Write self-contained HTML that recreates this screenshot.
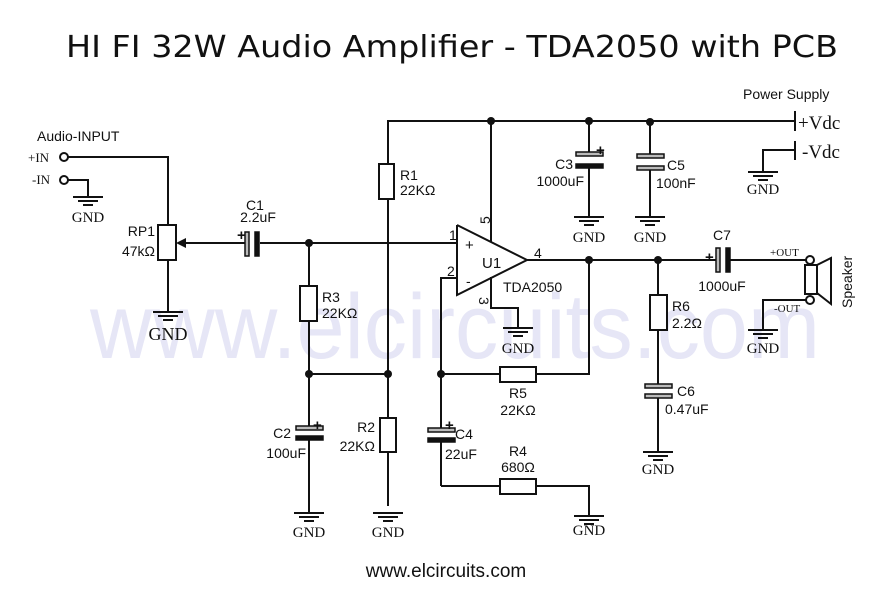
<!DOCTYPE html>
<html><head><meta charset="utf-8"><style>
html,body{margin:0;padding:0;background:#fff;}
svg{display:block;}
text{font-family:"Liberation Sans",sans-serif;fill:#111;}
.s{font-family:"Liberation Serif",serif;}
</style></head><body>
<svg width="892" height="612" viewBox="0 0 892 612" xmlns="http://www.w3.org/2000/svg">
<defs>
<g id="gnd" stroke="#111" stroke-width="2"><line x1="-15" y1="0" x2="15" y2="0"/><line x1="-10" y1="4" x2="10" y2="4"/><line x1="-5" y1="8" x2="5" y2="8"/></g>
</defs>
<text x="90" y="358" font-size="92" style="fill:#e6e6f6" textLength="730" lengthAdjust="spacingAndGlyphs">www.elcircuits.com</text>
<text x="66" y="57" font-size="30" style="font-family:'DejaVu Sans',sans-serif" textLength="772" lengthAdjust="spacingAndGlyphs">HI FI 32W Audio Amplifier - TDA2050 with PCB</text>
<g stroke="#111" stroke-width="2" fill="none">
<polyline points="388,506 388,121 795,121"/>
<line x1="795" y1="111" x2="795" y2="131"/>
<polyline points="491,121 491,242"/>
<line x1="589" y1="121" x2="589" y2="156"/><line x1="589" y1="168" x2="589" y2="217"/>
<line x1="650" y1="121" x2="650" y2="158"/><line x1="650" y1="170" x2="650" y2="217"/>
<polyline points="795,141 795,160"/><polyline points="795,150 763,150 763,172"/>
<polyline points="68,157 168,157 168,225"/>
<polyline points="68,180 88,180 88,196"/>
<line x1="168" y1="260" x2="168" y2="312"/>
<line x1="182" y1="243" x2="247" y2="243"/>
<line x1="260" y1="243" x2="457" y2="243"/>
<line x1="309" y1="243" x2="309" y2="286"/><line x1="309" y1="321" x2="309" y2="426"/>
<line x1="309" y1="374" x2="388" y2="374"/>
<line x1="309" y1="438" x2="309" y2="513"/>
<polyline points="457,225 527,260 457,295 457,225"/>
<polyline points="457,278 441,278 441,428"/>
<line x1="441" y1="440" x2="441" y2="486"/>
<polyline points="441,486 500,486"/><polyline points="536,486 589,486 589,516"/>
<line x1="441" y1="374" x2="500" y2="374"/><polyline points="536,374 589,374 589,260"/>
<polyline points="491,277 491,308 518,308 518,328"/>
<line x1="527" y1="260" x2="717" y2="260"/>
<line x1="730" y1="260" x2="806" y2="260"/>
<line x1="658" y1="260" x2="658" y2="295"/><line x1="658" y1="330" x2="658" y2="384"/><line x1="658" y1="396" x2="658" y2="452"/>
<polyline points="806,300 763,300 763,330"/>
</g>
<g stroke="#111" stroke-width="2" fill="#fff">
<rect x="379" y="164" width="15" height="35"/>
<rect x="380" y="418" width="16" height="34"/>
<rect x="300" y="286" width="17" height="35"/>
<rect x="158" y="225" width="18" height="35"/>
<rect x="500" y="367" width="36" height="15"/>
<rect x="500" y="479" width="36" height="15"/>
<rect x="650" y="295" width="17" height="35"/>
<circle cx="64" cy="157" r="4"/><circle cx="64" cy="180" r="4"/>
<circle cx="810" cy="260" r="4"/><circle cx="810" cy="300" r="4"/>
<rect x="805" y="265" width="12" height="29"/>
<polygon points="817,265 831,258 831,304 817,293"/>
</g>
<polygon points="176,243 186,238 186,248" fill="#111"/>
<g stroke="#111" stroke-width="1.5">
<rect x="245" y="232" width="4" height="24" fill="#bbb"/>
<rect x="255" y="232" width="4" height="24" fill="#111"/>
<rect x="576" y="152" width="27" height="4" fill="#bbb"/><rect x="576" y="164" width="27" height="4" fill="#111"/>
<rect x="637" y="154" width="27" height="4" fill="#bbb"/><rect x="637" y="166" width="27" height="4" fill="#bbb"/>
<rect x="296" y="426" width="27" height="4" fill="#bbb"/><rect x="296" y="436" width="27" height="4" fill="#111"/>
<rect x="428" y="428" width="27" height="4" fill="#bbb"/><rect x="428" y="438" width="27" height="4" fill="#111"/>
<rect x="716" y="248" width="4" height="24" fill="#bbb"/><rect x="726" y="248" width="4" height="24" fill="#111"/>
<rect x="645" y="384" width="27" height="4" fill="#bbb"/><rect x="645" y="394" width="27" height="4" fill="#bbb"/>
</g>
<g fill="#111">
<circle cx="491" cy="121" r="4"/><circle cx="589" cy="121" r="4"/><circle cx="650" cy="122" r="4"/>
<circle cx="309" cy="243" r="4"/><circle cx="309" cy="374" r="4"/><circle cx="388" cy="374" r="4"/>
<circle cx="441" cy="374" r="4"/><circle cx="589" cy="260" r="4"/><circle cx="658" cy="260" r="4"/>
</g>
<use href="#gnd" x="88" y="197"/><use href="#gnd" x="168" y="312"/><use href="#gnd" x="589" y="217"/><use href="#gnd" x="650" y="217"/>
<use href="#gnd" x="763" y="172"/><use href="#gnd" x="518" y="328"/><use href="#gnd" x="763" y="330"/><use href="#gnd" x="658" y="452"/>
<use href="#gnd" x="309" y="513"/><use href="#gnd" x="388" y="513"/><use href="#gnd" x="589" y="516"/>
<g text-anchor="middle">
<text class="s" x="88" y="222" font-size="15">GND</text><text class="s" x="168" y="340" font-size="18">GND</text>
<text class="s" x="589" y="242" font-size="15">GND</text><text class="s" x="650" y="242" font-size="15">GND</text><text class="s" x="763" y="194" font-size="15">GND</text>
<text class="s" x="518" y="353" font-size="15">GND</text><text class="s" x="763" y="353" font-size="15">GND</text><text class="s" x="658" y="474" font-size="15">GND</text>
<text class="s" x="309" y="537" font-size="15">GND</text><text class="s" x="388" y="537" font-size="15">GND</text><text class="s" x="589" y="535" font-size="15">GND</text>
</g>
<text x="37" y="141" font-size="14">Audio-INPUT</text>
<text class="s" x="28" y="162" font-size="13">+IN</text><text class="s" x="32" y="184" font-size="13">-IN</text>
<text x="155" y="236" font-size="14" text-anchor="end">RP1</text><text x="155" y="256" font-size="14" text-anchor="end">47kΩ</text>
<text x="255" y="210" font-size="14" text-anchor="middle">C1</text><text x="258" y="222" font-size="14" text-anchor="middle">2.2uF</text>
<text x="237" y="240" font-size="15" font-weight="bold">+</text>
<text x="400" y="180" font-size="14">R1</text><text x="400" y="195" font-size="14">22KΩ</text>
<text x="322" y="302" font-size="14">R3</text><text x="322" y="318" font-size="14">22KΩ</text>
<text x="291" y="438" font-size="14" text-anchor="end">C2</text><text x="306" y="458" font-size="14" text-anchor="end">100uF</text>
<text x="313" y="430" font-size="15" font-weight="bold">+</text>
<text x="375" y="432" font-size="14" text-anchor="end">R2</text><text x="375" y="451" font-size="14" text-anchor="end">22KΩ</text>
<text x="445" y="430" font-size="15" font-weight="bold">+</text>
<text x="455" y="439" font-size="14">C4</text><text x="445" y="459" font-size="14">22uF</text>
<text x="518" y="398" font-size="14" text-anchor="middle">R5</text><text x="518" y="415" font-size="14" text-anchor="middle">22KΩ</text>
<text x="518" y="456" font-size="14" text-anchor="middle">R4</text><text x="518" y="472" font-size="14" text-anchor="middle">680Ω</text>
<text x="449" y="240" font-size="14">1</text><text x="447" y="276" font-size="14">2</text>
<text x="534" y="258" font-size="14">4</text>
<text x="0" y="0" font-size="14" transform="translate(490,224) rotate(-90)">5</text>
<text x="0" y="0" font-size="14" transform="translate(479,297) rotate(90)">3</text>
<text x="465" y="250" font-size="15">+</text><text x="466" y="286" font-size="14">-</text>
<text x="482" y="268" font-size="15">U1</text><text x="503" y="292" font-size="14">TDA2050</text>
<text x="743" y="99" font-size="14">Power Supply</text>
<text class="s" x="798" y="129" font-size="19">+Vdc</text><text class="s" x="802" y="158" font-size="19">-Vdc</text>
<text x="596" y="155" font-size="15" font-weight="bold">+</text>
<text x="573" y="169" font-size="14" text-anchor="end">C3</text><text x="584" y="186" font-size="14" text-anchor="end">1000uF</text>
<text x="667" y="170" font-size="14">C5</text><text x="656" y="188" font-size="14">100nF</text>
<text x="722" y="240" font-size="14" text-anchor="middle">C7</text><text x="722" y="291" font-size="14" text-anchor="middle">1000uF</text>
<text x="705" y="262" font-size="15" font-weight="bold">+</text>
<text class="s" x="770" y="256" font-size="11">+OUT</text><text class="s" x="774" y="312" font-size="11">-OUT</text>
<text x="0" y="0" font-size="14" transform="translate(852,308) rotate(-90)">Speaker</text>
<text x="672" y="311" font-size="14">R6</text><text x="672" y="328" font-size="14">2.2Ω</text>
<text x="677" y="396" font-size="14">C6</text><text x="665" y="414" font-size="14">0.47uF</text>
<text x="446" y="577" font-size="19" text-anchor="middle">www.elcircuits.com</text>
</svg>
</body></html>
